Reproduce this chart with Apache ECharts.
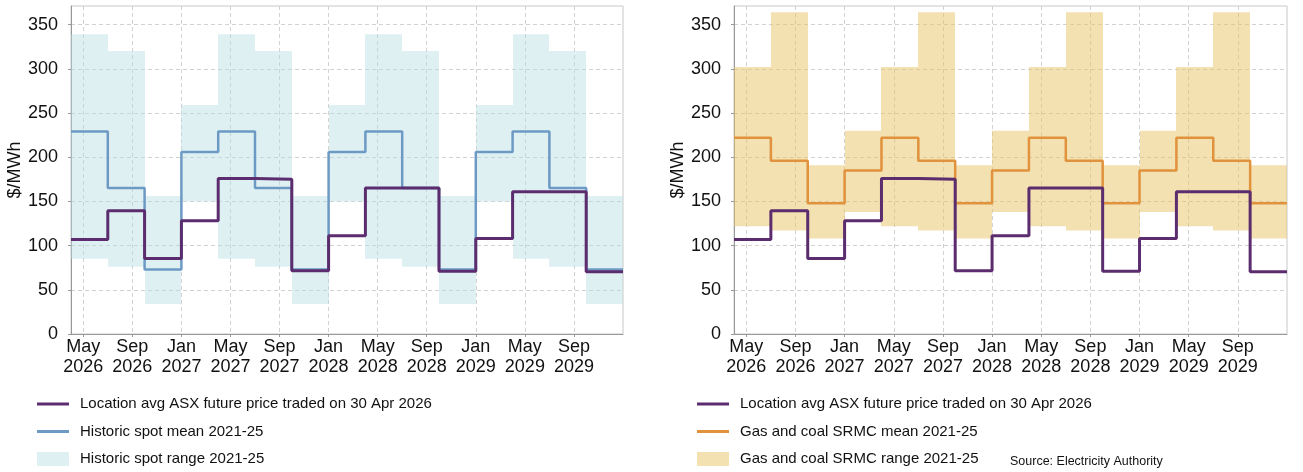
<!DOCTYPE html>
<html lang="en">
<head>
    <meta charset="UTF-8">
    <title>ASX futures vs historic spot and SRMC</title>
    <style>html,body{margin:0;padding:0;background:#fff}</style>
</head>
<body>
<div id="chart" style="width: 1303px;height: 472px"></div>
<script src="https://cdn.jsdelivr.net/npm/echarts@6.0.0/dist/echarts.min.js"></script>
<script>
    // quarters Q2 2026 .. Q4 2029
    const quarterStarts = ['2026-04', '2026-07', '2026-10', '2027-01', '2027-04', '2027-07',
        '2027-10', '2028-01', '2028-04', '2028-07', '2028-10', '2029-01', '2029-04',
        '2029-07', '2029-10'];
    const periodEnd = '2030-01';
    const tickMonths = ['2026-05', '2026-09', '2027-01', '2027-05', '2027-09', '2028-01',
        '2028-05', '2028-09', '2029-01', '2029-05', '2029-09'];
    const yTicks = [0, 50, 100, 150, 200, 250, 300, 350];

    const asxFuture = [107, 139.5, 85.5, 128, 176, 175, 71.5, 111, 165, 165, 71, 108, 161, 161, 70.5];
    const spotMean = [229, 165, 73, 206, 229, 165, 73, 206, 229, 165, 73, 206, 229, 165, 73];
    const spotLow = [85, 76, 34, 150, 85, 76, 34, 150, 85, 76, 34, 150, 85, 76, 34];
    const spotHigh = [339, 320, 156, 259, 339, 320, 156, 259, 339, 320, 156, 259, 339, 320, 156];
    const srmcMean = [222, 196, 148, 185, 222, 196, 148, 185, 222, 196, 148, 185, 222, 196, 148];
    const srmcLow = [122, 117, 108, 138, 122, 117, 108, 138, 122, 117, 108, 138, 122, 117, 108];
    const srmcHigh = [302, 364, 191, 230, 302, 364, 191, 230, 302, 364, 191, 230, 302, 364, 191];

    const FUTURE = 'Location avg ASX future price traded on 30 Apr 2026';
    const SPOT_MEAN = 'Historic spot mean 2021-25';
    const SPOT_RANGE = 'Historic spot range 2021-25';
    const SRMC_MEAN = 'Gas and coal SRMC mean 2021-25';
    const SRMC_RANGE = 'Gas and coal SRMC range 2021-25';

    const FONT = '"Liberation Sans", Arial, sans-serif';
    const MONTHS = ['Jan', 'Feb', 'Mar', 'Apr', 'May', 'Jun', 'Jul', 'Aug', 'Sep', 'Oct', 'Nov', 'Dec'];
    const GRID_LINE = {type: [4, 3], color: '#d2d2d2', width: 1};

    // x axis counts months from the first quarter
    const Y0 = 2026, M0 = 3;
    const toMonth = s => (+s.slice(0, 4) - Y0) * 12 + (+s.slice(5, 7) - 1 - M0);
    const monthLabel = v => {
        const m = M0 + Math.round(v);
        return MONTHS[m % 12] + '\n' + (Y0 + Math.floor(m / 12));
    };

    const stepData = vals => quarterStarts.map((q, k) => [toMonth(q), vals[k]])
        .concat([[toMonth(periodEnd), vals[vals.length - 1]]]);

    function stepLine(name, idx, vals, color, width) {
        return {
            type: 'line', name: name, xAxisIndex: idx, yAxisIndex: idx,
            step: 'end', symbol: 'none', color: color,
            lineStyle: {color: color, width: width},
            data: stepData(vals)
        }
    }

    function band(name, idx, lows, highs, color) {
        return {
            type: 'custom', name: name, xAxisIndex: idx, yAxisIndex: idx,
            color: color, itemStyle: {color: color},
            encode: {x: [0, 1], y: [2, 3]},
            data: quarterStarts.map((q, k) => [toMonth(q), toMonth(quarterStarts[k + 1] || periodEnd), lows[k], highs[k]]),
            renderItem: (params, api) => {
                const p0 = api.coord([api.value(0), api.value(3)]);
                const p1 = api.coord([api.value(1), api.value(2)]);
                const x0 = Math.round(p0[0]), x1 = Math.round(p1[0]);
                return {
                    type: 'rect',
                    shape: {x: x0, y: p0[1], width: x1 - x0, height: p1[1] - p0[1]},
                    style: {fill: color}
                }
            }
        }
    }

    function xAxis(idx) {
        const ticks = tickMonths.map(toMonth);
        return {
            type: 'value', gridIndex: idx, min: 0, max: toMonth(periodEnd),
            axisLine: {lineStyle: {color: '#999'}},
            axisTick: {show: true, length: 3, customValues: ticks, lineStyle: {color: '#999'}},
            axisLabel: {
                customValues: ticks, fontSize: 18, lineHeight: 20, color: '#111', margin: 3, fontFamily: FONT,
                formatter: monthLabel
            },
            splitLine: {show: true, lineStyle: GRID_LINE}
        }
    }

    function yAxis(idx) {
        return {
            type: 'value', gridIndex: idx, min: 0, max: 371,
            name: '$/MWh', nameLocation: 'middle', nameGap: 45,
            nameTextStyle: {fontSize: 18, color: '#111', fontFamily: FONT},
            axisLine: {show: true, lineStyle: {color: '#999'}},
            axisTick: {show: true, length: 3, customValues: yTicks, lineStyle: {color: '#999'}},
            axisLabel: {customValues: yTicks, fontSize: 18, color: '#111', margin: 13, fontFamily: FONT},
            splitLine: {show: true, lineStyle: GRID_LINE}
        }
    }

    const legendText = {fontSize: 15, color: '#111', fontFamily: FONT, padding: [0, 0, 0, 6]};
    function legend(left, top, names, h) {
        return {
            data: names, orient: 'vertical', left: left, top: top, padding: 0,
            icon: 'rect', itemWidth: 32, itemHeight: h, itemGap: 12.5,
            textStyle: legendText
        }
    }

    const chart = echarts.init(document.getElementById('chart'));
    chart.setOption({
        animation: false,
        textStyle: {fontFamily: FONT},
        title: {
            text: 'Source: Electricity Authority', left: 1010, top: 455, padding: 0,
            textStyle: {fontSize: 12.5, fontWeight: 'normal', color: '#111', fontFamily: FONT}
        },
        grid: [
            {left: 71, top: 6, width: 552, height: 328, show: true, borderColor: '#c8c8c8', outerBoundsMode: 'none'},
            {left: 734, top: 6, width: 553, height: 328, show: true, borderColor: '#c8c8c8', outerBoundsMode: 'none'}
        ],
        xAxis: [xAxis(0), xAxis(1)],
        yAxis: [yAxis(0), yAxis(1)],
        legend: [
            legend(37, 396.5, [FUTURE, SPOT_MEAN], 3),
            legend(37, 451.5, [SPOT_RANGE], 14),
            legend(697, 396.5, [FUTURE, SRMC_MEAN], 3),
            legend(697, 451.5, [SRMC_RANGE], 14)
        ],
        series: [
            band(SPOT_RANGE, 0, spotLow, spotHigh, 'rgba(183, 222, 228, 0.45)'),
            stepLine(SPOT_MEAN, 0, spotMean, '#6c9ac4', 2.5),
            stepLine(FUTURE, 0, asxFuture, '#5b2d6e', 3),
            band(SRMC_RANGE, 1, srmcLow, srmcHigh, 'rgba(232, 196, 100, 0.5)'),
            stepLine(SRMC_MEAN, 1, srmcMean, '#e0923c', 2.5),
            stepLine(FUTURE, 1, asxFuture, '#5b2d6e', 3)
        ]
    })
</script>
</body>
</html>
